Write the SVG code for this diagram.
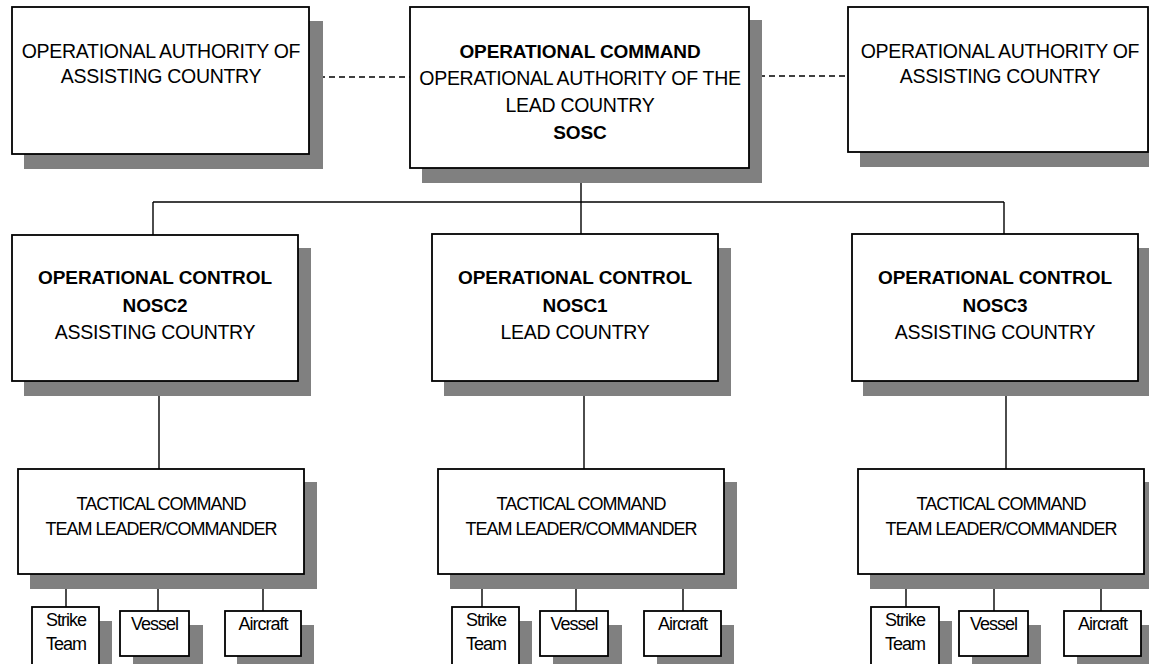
<svg xmlns="http://www.w3.org/2000/svg" width="1149" height="664" viewBox="0 0 1149 664">
<style>
  .box{fill:#fff;stroke:#000;stroke-width:1.8}
  .sh{fill:#808080}
  .ln{stroke:#000;stroke-width:1.4;fill:none}
  .dash{stroke:#000;stroke-width:1.4;fill:none;stroke-dasharray:6 4}
  text{font-family:"Liberation Sans",Arial,sans-serif;fill:#000;text-anchor:middle}
  .t19{font-size:19.5px;letter-spacing:-0.3px}
  .b19{font-size:19px;font-weight:bold;letter-spacing:-0.1px}
  .t17{font-size:18px;letter-spacing:-1px}
</style>
<rect width="1149" height="664" fill="#fff"/>
<g id="connectors">
  <line class="dash" x1="309" y1="77" x2="410" y2="77"/>
  <line class="dash" x1="749" y1="76" x2="848" y2="76"/>
  <line class="ln" x1="581" y1="168" x2="581" y2="234"/>
  <line class="ln" x1="153" y1="202" x2="1004" y2="202"/>
  <line class="ln" x1="153" y1="202" x2="153" y2="235"/>
  <line class="ln" x1="1004" y1="202" x2="1004" y2="234"/>
  <line class="ln" x1="159" y1="381" x2="159" y2="469"/>
  <line class="ln" x1="584" y1="381" x2="584" y2="469"/>
  <line class="ln" x1="1006" y1="381" x2="1006" y2="469"/>
  <line class="ln" x1="66" y1="574" x2="66" y2="607"/>
  <line class="ln" x1="158" y1="574" x2="158" y2="611"/>
  <line class="ln" x1="263" y1="574" x2="263" y2="611"/>
  <line class="ln" x1="482" y1="574" x2="482" y2="607"/>
  <line class="ln" x1="576" y1="574" x2="576" y2="611"/>
  <line class="ln" x1="683" y1="574" x2="683" y2="611"/>
  <line class="ln" x1="906" y1="574" x2="906" y2="607"/>
  <line class="ln" x1="994" y1="574" x2="994" y2="611"/>
  <line class="ln" x1="1101" y1="574" x2="1101" y2="611"/>
</g>
<g id="auth-left">
  <rect class="sh" x="24" y="21" width="299" height="148"/>
  <rect class="box" x="12" y="7" width="297" height="147"/>
  <text class="t19" x="161" y="58">OPERATIONAL AUTHORITY OF</text>
  <text class="t19" x="161" y="83">ASSISTING COUNTRY</text>
</g>
<g id="opcommand">
  <rect class="sh" x="422" y="20" width="340" height="163"/>
  <rect class="box" x="410" y="7" width="339" height="161"/>
  <text class="b19" x="580" y="58">OPERATIONAL COMMAND</text>
  <text class="t19" x="580" y="85">OPERATIONAL AUTHORITY OF THE</text>
  <text class="t19" x="580" y="112">LEAD COUNTRY</text>
  <text class="b19" x="580" y="139">SOSC</text>
</g>
<g id="auth-right">
  <rect class="sh" x="860" y="20" width="300" height="147"/>
  <rect class="box" x="848" y="7" width="300" height="145"/>
  <text class="t19" x="1000" y="58">OPERATIONAL AUTHORITY OF</text>
  <text class="t19" x="1000" y="83">ASSISTING COUNTRY</text>
</g>
<g id="nosc2">
  <rect class="sh" x="24" y="248" width="287" height="148"/>
  <rect class="box" x="12" y="235" width="286" height="146"/>
  <text class="b19" x="155" y="284">OPERATIONAL CONTROL</text>
  <text class="b19" x="155" y="312">NOSC2</text>
  <text class="t19" x="155" y="339">ASSISTING COUNTRY</text>
</g>
<g id="nosc1">
  <rect class="sh" x="444" y="248" width="287" height="148"/>
  <rect class="box" x="432" y="234" width="286" height="147"/>
  <text class="b19" x="575" y="284">OPERATIONAL CONTROL</text>
  <text class="b19" x="575" y="312">NOSC1</text>
  <text class="t19" x="575" y="339">LEAD COUNTRY</text>
</g>
<g id="nosc3">
  <rect class="sh" x="863" y="248" width="287" height="148"/>
  <rect class="box" x="852" y="234" width="286" height="147"/>
  <text class="b19" x="995" y="284">OPERATIONAL CONTROL</text>
  <text class="b19" x="995" y="312">NOSC3</text>
  <text class="t19" x="995" y="339">ASSISTING COUNTRY</text>
</g>
<g id="tac-left">
  <rect class="sh" x="30" y="482" width="287" height="107"/>
  <rect class="box" x="18" y="469" width="286" height="105"/>
  <text class="t17" x="161" y="510">TACTICAL COMMAND</text>
  <text class="t17" x="161" y="535">TEAM LEADER/COMMANDER</text>
</g>
<g id="tac-center">
  <rect class="sh" x="450" y="482" width="287" height="107"/>
  <rect class="box" x="438" y="469" width="286" height="105"/>
  <text class="t17" x="581" y="510">TACTICAL COMMAND</text>
  <text class="t17" x="581" y="535">TEAM LEADER/COMMANDER</text>
</g>
<g id="tac-right">
  <rect class="sh" x="870" y="482" width="287" height="107"/>
  <rect class="box" x="858" y="469" width="286" height="105"/>
  <text class="t17" x="1001" y="510">TACTICAL COMMAND</text>
  <text class="t17" x="1001" y="535">TEAM LEADER/COMMANDER</text>
</g>
<g id="strike-left">
  <rect class="sh" x="45" y="621" width="67" height="60"/>
  <rect class="box" x="32" y="607" width="67" height="70"/>
  <text class="t17" x="66" y="626">Strike</text>
  <text class="t17" x="66" y="650">Team</text>
</g>
<g id="vessel-left">
  <rect class="sh" x="133" y="625" width="70" height="50"/>
  <rect class="box" x="120" y="611" width="69" height="45"/>
  <text class="t17" x="154.5" y="630">Vessel</text>
</g>
<g id="aircraft-left">
  <rect class="sh" x="237" y="625" width="77" height="50"/>
  <rect class="box" x="225" y="611" width="76" height="45"/>
  <text class="t17" x="263" y="630">Aircraft</text>
</g>
<g id="strike-center">
  <rect class="sh" x="465" y="621" width="67" height="60"/>
  <rect class="box" x="452" y="607" width="67" height="70"/>
  <text class="t17" x="486" y="626">Strike</text>
  <text class="t17" x="486" y="650">Team</text>
</g>
<g id="vessel-center">
  <rect class="sh" x="553" y="625" width="69" height="50"/>
  <rect class="box" x="540" y="611" width="68" height="45"/>
  <text class="t17" x="574" y="630">Vessel</text>
</g>
<g id="aircraft-center">
  <rect class="sh" x="657" y="625" width="77" height="50"/>
  <rect class="box" x="644" y="611" width="77" height="45"/>
  <text class="t17" x="682.5" y="630">Aircraft</text>
</g>
<g id="strike-right">
  <rect class="sh" x="884" y="621" width="68" height="60"/>
  <rect class="box" x="871" y="607" width="68" height="70"/>
  <text class="t17" x="905" y="626">Strike</text>
  <text class="t17" x="905" y="650">Team</text>
</g>
<g id="vessel-right">
  <rect class="sh" x="972" y="625" width="69" height="50"/>
  <rect class="box" x="959" y="611" width="69" height="45"/>
  <text class="t17" x="993.5" y="630">Vessel</text>
</g>
<g id="aircraft-right">
  <rect class="sh" x="1077" y="625" width="77" height="50"/>
  <rect class="box" x="1064" y="611" width="77" height="45"/>
  <text class="t17" x="1102.5" y="630">Aircraft</text>
</g>
</svg>
